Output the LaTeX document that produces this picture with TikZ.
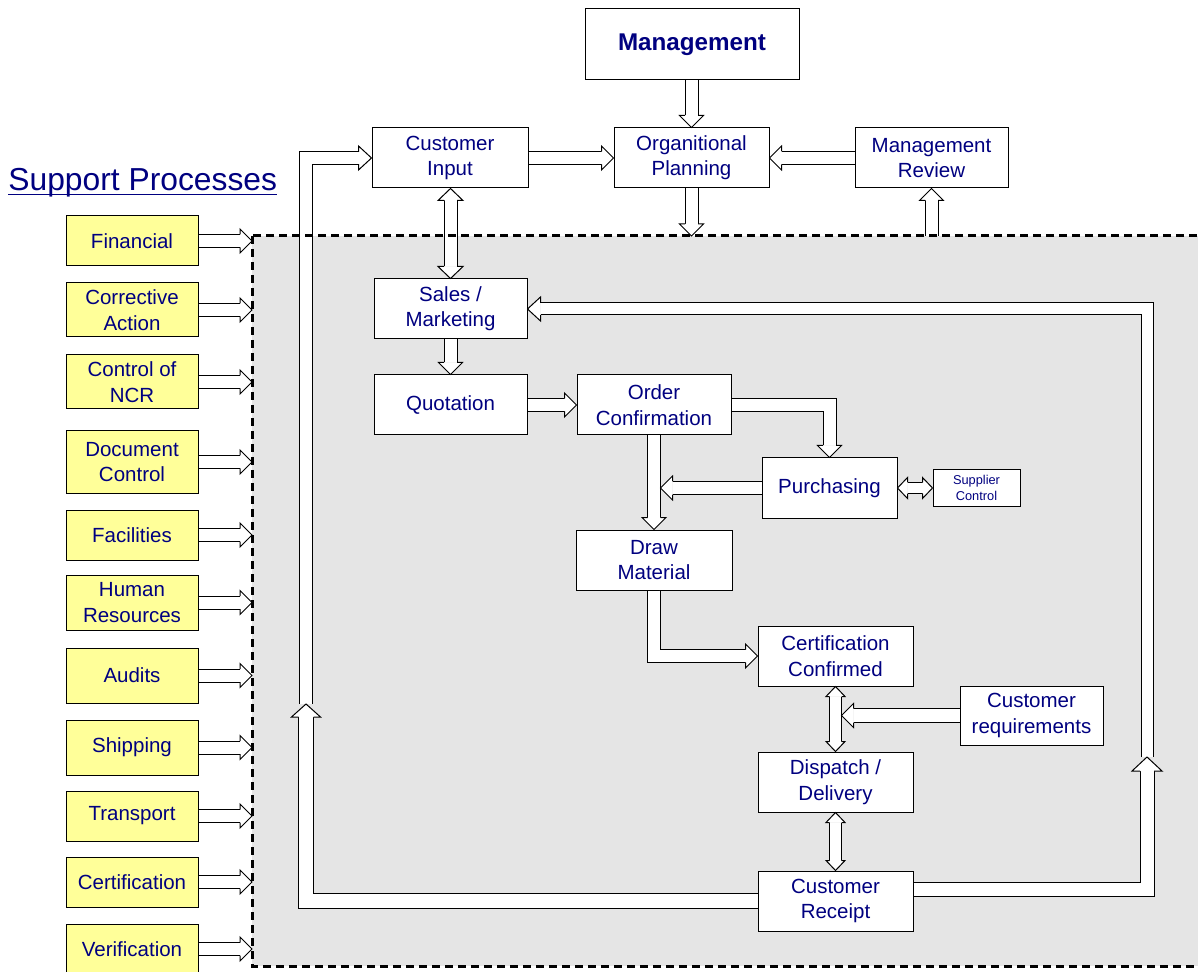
\documentclass[tikz,border=0pt]{standalone}
\usepackage{fontspec}
\setmainfont{Liberation Sans}
\usetikzlibrary{calc}
\definecolor{navy}{RGB}{0,0,128}
\definecolor{bggray}{RGB}{229,229,229}
\definecolor{supy}{RGB}{255,255,153}
\newcommand\ArrW{3.25pt}\newcommand\ArrH{6pt}\newcommand\ArrL{6pt}\newcommand\ArrD{6pt}
\newcommand\setarr[4]{\renewcommand\ArrW{#1}\renewcommand\ArrH{#2}\renewcommand\ArrL{#3}\renewcommand\ArrD{#4}}
\newcommand\ahead[2]{%
  \coordinate (hc) at ($(#2)!\ArrL!(#1)$);
  \filldraw[headst] ($(hc)!\ArrW!90:(#2)$) -- ($(hc)!\ArrH!90:(#2)$) -- (#2) -- ($(hc)!\ArrH!-90:(#2)$) -- ($(hc)!\ArrW!-90:(#2)$);}
\newcommand\sarrow[2]{%
  \coordinate (hc) at ($(#2)!\ArrL!(#1)$);
  \draw[band] (#1) -- (hc);
  \ahead{#1}{#2}}
\newcommand\darrow[2]{%
  \coordinate (hca) at ($(#1)!\ArrL!(#2)$);
  \coordinate (hcb) at ($(#2)!\ArrL!(#1)$);
  \draw[band] (hca) -- (hcb);
  \ahead{#2}{#1}\ahead{#1}{#2}}
\newcommand\earrow[3]{%
  \coordinate (hc) at ($(#3)!\ArrL!(#2)$);
  \draw[band] (#1) -- (#2) -- (hc);
  \ahead{#2}{#3}}
\begin{document}
\begin{tikzpicture}[x=0.5pt,y=-0.5pt,
  box/.style={draw=black, line width=0.5pt, fill=white, inner sep=0pt, align=center, text=navy, font=\fontsize{10.25pt}{12.7pt}\selectfont},
  supbox/.style={box, fill=supy, minimum width=66pt},
  band/.style={draw=black, line width=0.5pt, double=white, double distance=\ArrD, line join=miter},
  headst/.style={draw=black, fill=white, line width=0.5pt, line join=miter}]
\clip (0,0) rectangle (1198,972);
\fill[white] (0,0) rectangle (1198,972);
% process region
\fill[bggray] (252,236) rectangle (1210,966);
\coordinate (dl) at (252,0);
\coordinate (dtop) at (0,236);
% title
\node[anchor=base west, inner sep=0pt, text=navy, font=\fontsize{15.9pt}{18pt}\selectfont] (title) at (8,191) {Support Processes};
\draw[navy, line width=0.75pt] ($(title.base west)+(0,3.5)$) -- ($(title.base east)+(0,3.5)$);
% support boxes
\node[supbox, minimum height=25pt] (s1) at (132,241) {Financial};
\node[supbox, minimum height=27pt] (s2) at (132,310) {Corrective\\Action};
\node[supbox, minimum height=27pt] (s3) at (132,382) {Control of\\NCR};
\node[supbox, minimum height=31pt] (s4) at (132,462) {Document\\Control};
\node[supbox, minimum height=25pt] (s5) at (132,535) {Facilities};
\node[supbox, minimum height=27.5pt] (s6) at (132,602.5) {Human\\Resources};
\node[supbox, minimum height=27.5pt] (s7) at (132,675.5) {Audits};
\node[supbox, minimum height=27.5pt] (s8) at (132,747.5) {Shipping};
\node[supbox, minimum height=25pt] (s9) at (132,816) {Transport};
\node[supbox, minimum height=25pt] (s10) at (132,882) {Certification};
\node[supbox, minimum height=25pt] (s11) at (132,949) {Verification};
% process boxes
\node[box, minimum width=107pt, minimum height=35.5pt, font=\bfseries\fontsize{12.1pt}{14pt}\selectfont] (mg) at (692,44.5) {Management};
\node[box, minimum width=78pt, minimum height=30pt] (ci) at (450,158) {Customer\\Input};
\node[box, minimum width=77.5pt, minimum height=30pt] (op) at (691.5,158) {Organitional\\Planning};
\node[box, minimum width=76.5pt, minimum height=30pt] (mr) at (931.5,158) {Management\\Review};
\node[box, minimum width=76.5pt, minimum height=30pt] (sm) at (450.5,309) {Sales /\\Marketing};
\node[box, minimum width=76.5pt, minimum height=30pt] (qu) at (450.5,405) {Quotation};
\node[box, minimum width=77pt, minimum height=30pt] (oc) at (654,405) {Order\\Confirmation};
\node[box, minimum width=67.5pt, minimum height=30pt] (pu) at (829.5,488) {Purchasing};
\node[box, minimum width=43.5pt, minimum height=18pt, font=\fontsize{6.4pt}{8pt}\selectfont] (sc) at (976.5,488) {Supplier\\Control};
\node[box, minimum width=78pt, minimum height=30pt] (dm) at (654,560) {Draw\\Material};
\node[box, minimum width=77.5pt, minimum height=30pt] (cert) at (835.5,656) {Certification\\Confirmed};
\node[box, minimum width=71.5pt, minimum height=29.5pt] (creq) at (1031.5,715.5) {Customer\\requirements};
\node[box, minimum width=77.5pt, minimum height=30pt] (disp) at (835.5,782) {Dispatch /\\Delivery};
\node[box, minimum width=77.5pt, minimum height=30pt] (cr) at (835.5,901) {Customer\\Receipt};
% support arrows
\foreach \i in {1,...,11} {
  \coordinate (t\i) at (s\i.east -| dl);
  \sarrow{s\i.east}{t\i}
}
% top arrows
\coordinate (mgs) at (op.north |- mg.south);
\sarrow{mgs}{op.north}
\sarrow{ci.east}{op.west}
\sarrow{mr.west}{op.east}
\coordinate (opd) at (op.south |- dtop);
\sarrow{op.south}{opd}
\coordinate (mru) at (mr.south |- dtop);
\sarrow{mru}{mr.south}
% customer input <-> sales
\setarr{3.25pt}{6.25pt}{6pt}{6pt}
\coordinate (cis) at (sm.north |- ci.south);
\darrow{cis}{sm.north}
\setarr{3.25pt}{6pt}{6pt}{6pt}
\sarrow{sm.south}{qu.north}
\sarrow{qu.east}{oc.west}
\coordinate (ocp) at (pu.north |- oc.east);
\earrow{oc.east}{ocp}{pu.north}
\sarrow{oc.south}{dm.north}
\coordinate (put) at ($(oc.south |- pu.west)+(6.5,0)$);
\sarrow{pu.west}{put}
\setarr{2.75pt}{5.25pt}{5pt}{5pt}
\darrow{pu.east}{sc.west}
\setarr{3.25pt}{6pt}{6pt}{6pt}
\coordinate (dmc) at (dm.south |- cert.west);
\earrow{dm.south}{dmc}{cert.west}
\setarr{3pt}{4.75pt}{5pt}{5.5pt}
\darrow{cert.south}{disp.north}
\darrow{disp.south}{cr.north}
\setarr{3.5pt}{6pt}{6pt}{6.5pt}
\coordinate (crt) at ($(cert.south |- creq.west)+(6,0)$);
\sarrow{creq.west}{crt}
% left feedback loop
\coordinate (lx) at (306,704);
\coordinate (lc) at (lx |- ci.west);
\setarr{3.1pt}{6pt}{6.5pt}{5.7pt}
\earrow{lx}{lc}{ci.west}
\coordinate (lb) at (lx |- cr.west);
\setarr{3.75pt}{7.25pt}{6.5pt}{7pt}
\earrow{cr.west}{lb}{lx}
% right feedback loop
\coordinate (rx) at (1147,757);
\coordinate (rc2) at (rx |- sm.east);
\setarr{3pt}{6pt}{6.5pt}{5.5pt}
\earrow{rx}{rc2}{sm.east}
\coordinate (rs) at ($(cr.east)+(0,-12)$);
\coordinate (rc1) at (rx |- rs);
\setarr{3.5pt}{7.5pt}{7pt}{6.5pt}
\earrow{rs}{rc1}{rx}
% dashed border
\draw[line width=1.5pt, dash pattern=on 4pt off 2.5pt] (252,236) rectangle (1210,966);
\end{tikzpicture}
\end{document}
